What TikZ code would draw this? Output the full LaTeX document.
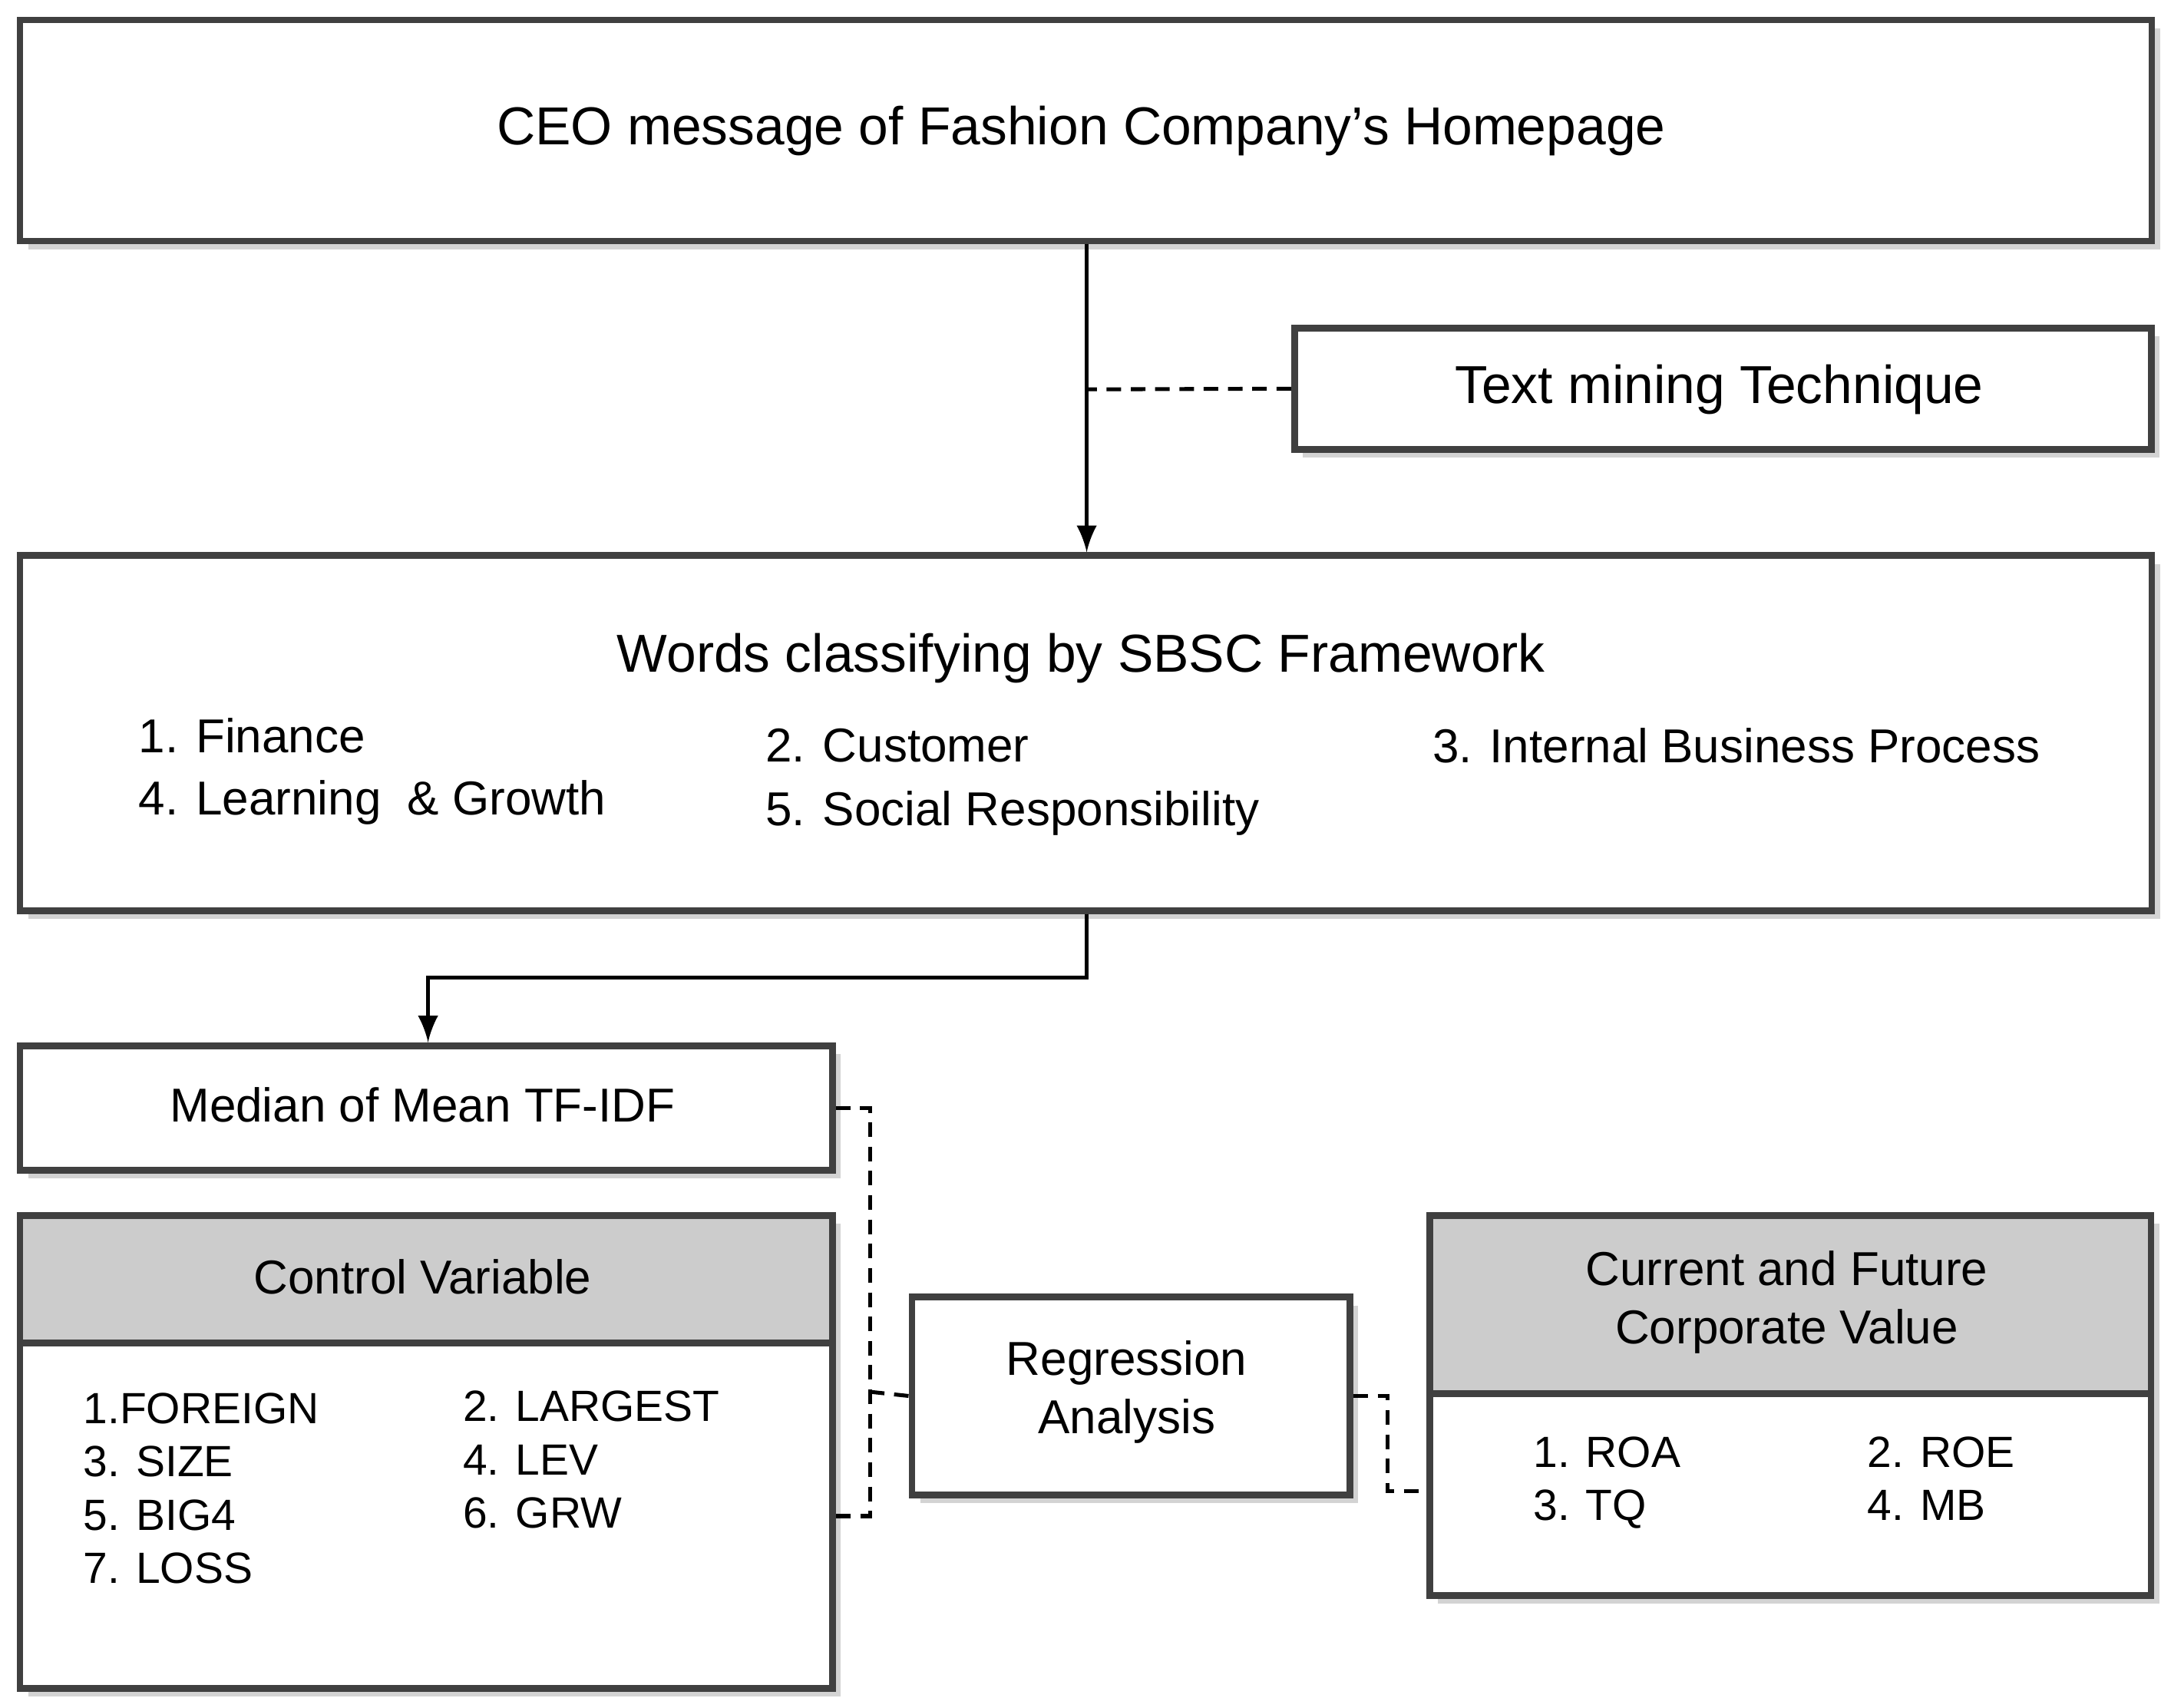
\documentclass[tikz,border=0pt]{standalone}
\usepackage{fontspec}
\setmainfont{Liberation Sans}
\usetikzlibrary{shadows}

\begin{document}
\begin{tikzpicture}[x=0.01cm, y=-0.01cm,
    box/.style={draw=black!75, line width=1.4pt, fill=white, anchor=north west,
        inner sep=0pt, drop shadow={shadow xshift=0.6mm, shadow yshift=-0.6mm, opacity=0.35}},
    head/.style={draw=black!75, line width=1.4pt, fill=black!20, anchor=north west, inner sep=0pt},
    big/.style={font=\fontsize{11}{13}\selectfont},
    item/.style={font=\fontsize{9.8}{12}\selectfont, anchor=west},
    small/.style={font=\fontsize{9}{11}\selectfont, anchor=west, align=left},
    link/.style={line width=0.9pt, -latex},
    dashlink/.style={line width=0.8pt, densely dashed}
 ]
\useasboundingbox (0,0) rectangle (1565,1237);

% top
\node[box, minimum width=15.43cm, minimum height=1.6cm] (ceo) at (12,12) {};
\node[big] (ceoT) at (783,95) {CEO message of Fashion Company’s Homepage};
\node[box, minimum width=6.2cm, minimum height=0.88cm] (tm) at (935,235) {};
\node[big] (tmT) at (1245,282) {Text mining Technique};

% SBSC
\node[box, minimum width=15.43cm, minimum height=2.57cm] (sbsc) at (12,400) {};
\node[big] (sbscT) at (783,477) {Words classifying by SBSC Framework};
\node[item] (i1) at (88,533) {1. Finance};
\node[item] (i4) at (88,581) {4. Learning \ \& Growth};
\node[item] (i2) at (542,540) {2. Customer};
\node[item] (i5) at (542,589) {5. Social Responsibility};
\node[item] (i3) at (1025,540) {3. Internal Business Process};

% median
\node[box, minimum width=5.88cm, minimum height=0.9cm] (med) at (12,755) {};
\node[item, anchor=center] (medT) at (306,800) {Median of Mean TF-IDF};

% control
\node[box, minimum width=5.88cm, minimum height=3.42cm] (ctrl) at (12,878) {};
\node[head, minimum width=5.88cm, minimum height=0.92cm] (ctrlH) at (12,878) {};
\node[item, anchor=center] (ctrlT) at (306,925) {Control Variable};
\node[small] (c1) at (48,1078) {1.FOREIGN\\3. SIZE\\5. BIG4\\7. LOSS};
\node[small, anchor=north west] (c2) at (323,995) {2. LARGEST\\4. LEV\\6. GRW};

% regression
\node[box, minimum width=3.17cm, minimum height=1.43cm] (reg) at (658,937) {};
\node[item, anchor=center, align=center] (regT) at (816,1008) {Regression\\Analysis};

% value
\node[box, minimum width=5.22cm, minimum height=2.75cm] (val) at (1033,878) {};
\node[head, minimum width=5.22cm, minimum height=1.29cm] (valH) at (1033,878) {};
\node[item, anchor=center, align=center] (valT) at (1294,943) {Current and Future\\Corporate Value};
\node[small, anchor=north west] (v1) at (1098,1028) {1. ROA\\3. TQ};
\node[small, anchor=north west] (v2) at (1340,1028) {2. ROE\\4. MB};

% connectors
\draw[link] (ceo.south -| 787,0) -- (sbsc.north -| 787,0);
\draw[dashlink] (tm.west) -- (787,282);
\draw[link] (sbsc.south -| 787,0) |- (310,708) -- (med.north -| 310,0);
\draw[dashlink] (med.east) -| (630,1098) -- (ctrl.east |- 0,1098);
\draw[dashlink] (630,1008) -- (reg.west);
\draw[dashlink] (reg.east) -| (1005,1080) -- (val.west |- 0,1080);
\end{tikzpicture}
\end{document}
